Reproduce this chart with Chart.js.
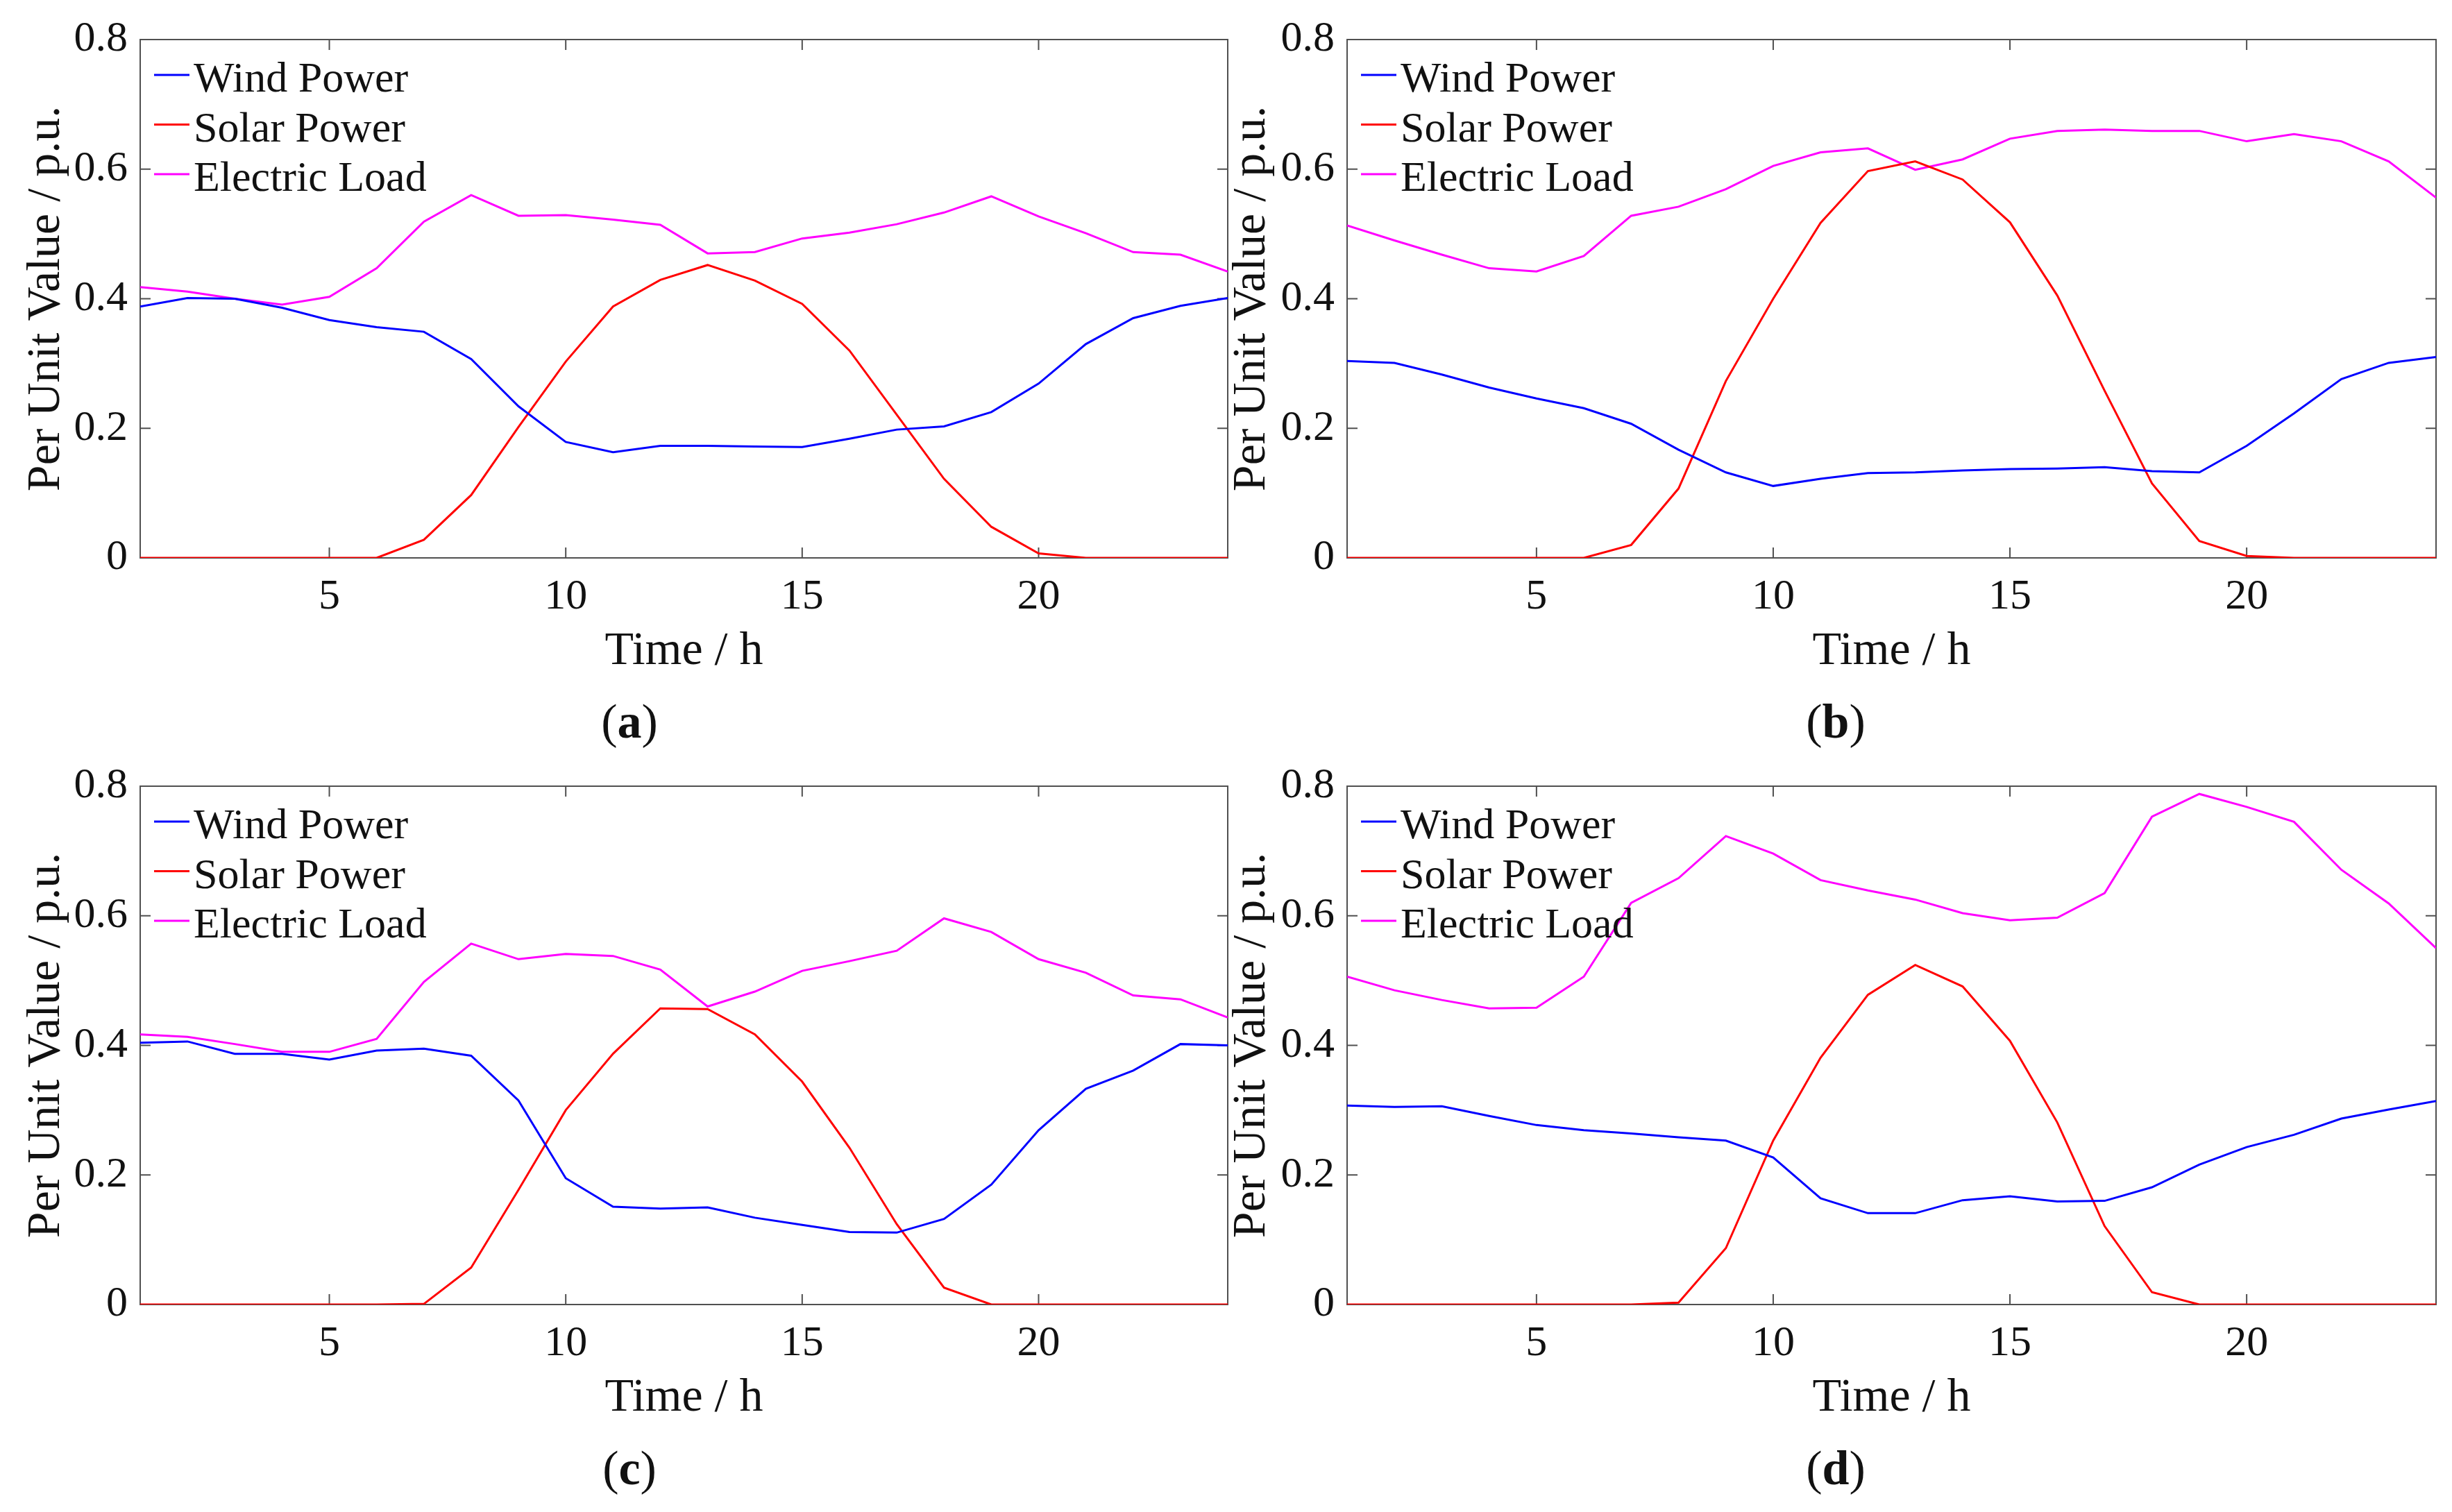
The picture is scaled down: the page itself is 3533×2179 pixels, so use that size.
<!DOCTYPE html>
<html>
<head>
<meta charset="utf-8">
<script src="https://cdn.jsdelivr.net/npm/chart.js@4.4.0/dist/chart.umd.min.js"></script>
<style>
  html, body { margin: 0; padding: 0; background: #fff; }
  body { width: 3533px; height: 2179px; position: relative; overflow: hidden;
         font-family: 'Liberation Serif', 'Times New Roman', serif; }
  canvas { position: absolute; }
  .tag { position: absolute; font-size: 70px; line-height: 1; color: #111;
         transform: translate(-50%, -50%); white-space: nowrap; }
</style>
</head>
<body>
<canvas id="chartA" width="1780" height="1000" style="left:0px;top:0px"></canvas>
<canvas id="chartB" width="1773" height="1000" style="left:1760px;top:0px"></canvas>
<canvas id="chartC" width="1780" height="1000" style="left:0px;top:1076px"></canvas>
<canvas id="chartD" width="1773" height="1000" style="left:1760px;top:1076px"></canvas>
<div class="tag" style="left:907px;top:1040px">(<b>a</b>)</div>
<div class="tag" style="left:2645px;top:1040px">(<b>b</b>)</div>
<div class="tag" style="left:907px;top:2116px">(<b>c</b>)</div>
<div class="tag" style="left:2645px;top:2116px">(<b>d</b>)</div>
<script>
// hours of the day and axis ticks
const hours = [1, 2, 3, 4, 5, 6, 7, 8, 9, 10, 11, 12, 13, 14, 15, 16, 17, 18, 19, 20, 21, 22, 23, 24];
const xTicks = [5, 10, 15, 20];
const yTicks = [0, 0.2, 0.4, 0.6, 0.8];
const yTickLabels = ['0', '0.2', '0.4', '0.6', '0.8'];
const seriesNames = ['Wind Power', 'Solar Power', 'Electric Load'];
const seriesColors = ['#0000ff', '#ff0000', '#ff00ff'];

// (a)
const windA  = [0.388, 0.401, 0.400, 0.386, 0.367, 0.356, 0.349, 0.307, 0.234, 0.179, 0.163, 0.173, 0.173, 0.172, 0.171, 0.184, 0.198, 0.203, 0.225, 0.269, 0.330, 0.370, 0.389, 0.401];
const solarA = [0, 0, 0, 0, 0, 0, 0.028, 0.097, 0.202, 0.303, 0.388, 0.429, 0.452, 0.428, 0.392, 0.320, 0.221, 0.122, 0.048, 0.007, 0, 0, 0, 0];
const loadA  = [0.418, 0.411, 0.400, 0.391, 0.403, 0.447, 0.519, 0.560, 0.528, 0.529, 0.522, 0.514, 0.470, 0.472, 0.493, 0.502, 0.515, 0.533, 0.558, 0.527, 0.501, 0.472, 0.468, 0.442];
// (b)
const windB  = [0.304, 0.301, 0.283, 0.263, 0.246, 0.231, 0.207, 0.167, 0.132, 0.111, 0.122, 0.131, 0.132, 0.135, 0.137, 0.138, 0.140, 0.134, 0.132, 0.173, 0.223, 0.276, 0.301, 0.310];
const solarB = [0, 0, 0, 0, 0, 0, 0.020, 0.107, 0.273, 0.400, 0.517, 0.597, 0.612, 0.584, 0.518, 0.405, 0.258, 0.115, 0.026, 0.003, 0, 0, 0, 0];
const loadB  = [0.513, 0.490, 0.468, 0.447, 0.442, 0.466, 0.528, 0.542, 0.569, 0.605, 0.626, 0.632, 0.599, 0.615, 0.647, 0.659, 0.661, 0.659, 0.659, 0.643, 0.654, 0.643, 0.612, 0.556];
// (c)
const windC  = [0.404, 0.406, 0.387, 0.387, 0.378, 0.392, 0.395, 0.384, 0.315, 0.195, 0.151, 0.148, 0.150, 0.134, 0.123, 0.112, 0.111, 0.132, 0.185, 0.269, 0.333, 0.361, 0.402, 0.400];
const solarC = [0, 0, 0, 0, 0, 0, 0.001, 0.057, 0.177, 0.300, 0.387, 0.457, 0.456, 0.417, 0.344, 0.242, 0.124, 0.026, 0, 0, 0, 0, 0, 0];
const loadC  = [0.417, 0.413, 0.402, 0.390, 0.390, 0.410, 0.498, 0.557, 0.533, 0.541, 0.538, 0.517, 0.460, 0.483, 0.515, 0.530, 0.546, 0.596, 0.575, 0.533, 0.512, 0.477, 0.471, 0.443];
// (d)
const windD  = [0.307, 0.305, 0.306, 0.291, 0.277, 0.269, 0.264, 0.258, 0.253, 0.227, 0.164, 0.141, 0.141, 0.161, 0.167, 0.159, 0.160, 0.181, 0.216, 0.243, 0.262, 0.287, 0.301, 0.314];
const solarD = [0, 0, 0, 0, 0, 0, 0, 0.003, 0.087, 0.253, 0.381, 0.478, 0.524, 0.491, 0.407, 0.281, 0.121, 0.019, 0, 0, 0, 0, 0, 0];
const loadD  = [0.506, 0.485, 0.470, 0.457, 0.458, 0.506, 0.620, 0.658, 0.723, 0.696, 0.655, 0.639, 0.625, 0.604, 0.593, 0.597, 0.635, 0.753, 0.788, 0.768, 0.745, 0.671, 0.619, 0.550];

const FONT = "'Liberation Serif', 'Times New Roman', serif";
const axisColor = '#505050';
const textColor = '#111111';
const tickLen = 15;

// matlab style box with inward ticks on all four sides
const framePlugin = {
    id: 'frame',
    beforeDatasetsDraw(chart) {
        const { ctx, chartArea: a, scales: { x, y } } = chart;
        ctx.save();
        ctx.strokeStyle = axisColor;
        ctx.lineWidth = 2;
        ctx.strokeRect(a.left, a.top, a.right - a.left, a.bottom - a.top);
        ctx.beginPath();
        xTicks.forEach(function(v) {
            const px = x.getPixelForValue(v);
            ctx.moveTo(px, a.bottom); ctx.lineTo(px, a.bottom - tickLen);
            ctx.moveTo(px, a.top); ctx.lineTo(px, a.top + tickLen);
        });
        yTicks.forEach(function(v) {
            const py = y.getPixelForValue(v);
            ctx.moveTo(a.left, py); ctx.lineTo(a.left + tickLen, py);
            ctx.moveTo(a.right, py); ctx.lineTo(a.right - tickLen, py);
        });
        ctx.stroke();
        ctx.restore();
    }
};

// legend inside the axes, no box, line sample right before the text
const insideLegend = {
    id: 'insideLegend',
    afterDatasetsDraw(chart) {
        const { ctx, chartArea: a } = chart;
        ctx.save();
        ctx.font = '62px ' + FONT;
        ctx.textBaseline = 'alphabetic';
        ctx.textAlign = 'left';
        chart.data.datasets.forEach(function(ds, i) {
            const ly = a.top + 51 + i * 71.5;
            ctx.strokeStyle = ds.borderColor;
            ctx.lineWidth = 3;
            ctx.beginPath();
            ctx.moveTo(a.left + 20, ly);
            ctx.lineTo(a.left + 71, ly);
            ctx.stroke();
            ctx.fillStyle = textColor;
            ctx.fillText(ds.label, a.left + 77, a.top + 75 + i * 71.5);
        });
        ctx.restore();
    }
};

function makeChart(id, series, pad, yAxisW) {
    const ctx = document.getElementById(id).getContext('2d');
    return new Chart(ctx, {
        type: 'line',
        data: {
            datasets: series.map(function(values, i) {
                return {
                    label: seriesNames[i],
                    data: hours.map(function(h, k) { return { x: h, y: values[k] }; }),
                    borderColor: seriesColors[i],
                    backgroundColor: seriesColors[i],
                    borderWidth: 3,
                    pointRadius: 0,
                    tension: 0,
                    fill: false
                };
            })
        },
        options: {
            responsive: false,
            animation: false,
            devicePixelRatio: 1,
            layout: { padding: pad },
            plugins: {
                legend: { display: false },
                tooltip: { enabled: false }
            },
            scales: {
                x: {
                    type: 'linear',
                    min: hours[0],
                    max: hours[hours.length - 1],
                    afterBuildTicks: function(scale) {
                        scale.ticks = xTicks.map(function(v) { return { value: v }; });
                    },
                    afterFit: function(scale) { scale.height = 196; },
                    grid: { display: false, drawTicks: false },
                    border: { display: false },
                    ticks: {
                        padding: 20,
                        maxRotation: 0,
                        autoSkip: false,
                        color: textColor,
                        font: { family: FONT, size: 62 }
                    },
                    title: {
                        display: true,
                        text: 'Time / h',
                        color: textColor,
                        font: { family: FONT, size: 68 },
                        padding: { top: 0, bottom: 20 }
                    }
                },
                y: {
                    min: 0,
                    max: 0.8,
                    afterBuildTicks: function(scale) {
                        scale.ticks = yTicks.map(function(v) { return { value: v }; });
                    },
                    afterFit: function(scale) { scale.width = yAxisW; },
                    grid: { display: false, drawTicks: false },
                    border: { display: false },
                    ticks: {
                        padding: 18,
                        autoSkip: false,
                        color: textColor,
                        font: { family: FONT, size: 62 },
                        callback: function(value, index) { return yTickLabels[index]; }
                    },
                    title: {
                        display: true,
                        text: 'Per Unit Value / p.u.',
                        color: textColor,
                        font: { family: FONT, size: 68 },
                        padding: { top: 3, bottom: 0 }
                    }
                }
            }
        },
        plugins: [framePlugin, insideLegend]
    });
}

makeChart('chartA', [windA, solarA, loadA], { left: 23, top: 57, right: 11, bottom: 0 }, 179);
makeChart('chartB', [windB, solarB, loadB], { left: 0, top: 57, right: 23, bottom: 0 }, 181);
makeChart('chartC', [windC, solarC, loadC], { left: 23, top: 57, right: 11, bottom: 0 }, 179);
makeChart('chartD', [windD, solarD, loadD], { left: 0, top: 57, right: 23, bottom: 0 }, 181);
</script>
</body>
</html>
